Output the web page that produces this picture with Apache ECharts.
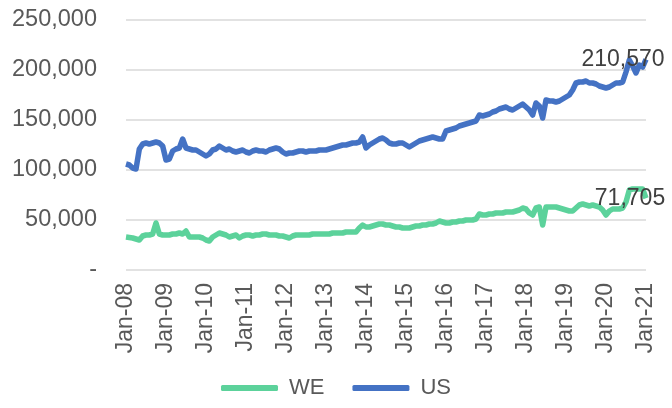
<!DOCTYPE html>
<html>
<head>
<meta charset="utf-8">
<title>WE vs US</title>
<script src="https://cdn.jsdelivr.net/npm/echarts@6/dist/echarts.min.js"></script>
<style>
    html, body {margin: 0; padding: 0; background: #fff;}
    #chart {width: 672px; height: 408px;}
</style>
</head>
<body>
<div id="chart"></div>
<script>
    // monthly values, Jan-08 .. Jan-21 (thousands)
    var weValues = [
        33, 32.5, 32, 31, 30, 34, 35, 35, 36, 47, 36, 35,
        35, 35, 36, 36, 37, 36, 39, 33, 33, 33, 33, 32,
        30, 29, 33, 35, 37, 36, 35, 33, 34, 35, 32, 34,
        35, 35, 34, 35, 35, 36, 36, 35, 35, 35, 34, 34,
        33, 32, 34, 35, 35, 35, 35, 35, 36, 36, 36, 36,
        36, 36, 37, 37, 37, 37, 38, 38, 38, 38, 42, 45,
        43, 43, 44, 45, 46, 46, 45, 45, 44, 43, 43, 42,
        42, 42, 43, 44, 44, 45, 45, 46, 46, 47, 49, 48,
        47, 47, 48, 48, 49, 49, 50, 50, 50, 51, 56, 55,
        55, 56, 56, 57, 57, 57, 58, 58, 58, 59, 60, 62,
        61, 57, 55, 62, 63, 45, 63, 63, 63, 63, 62, 61,
        60, 59, 59, 62, 65, 66, 65, 64, 65, 64, 63, 60,
        55, 59, 61, 61, 61, 62, 68, 80, 81, 81, 81, 81,
        71.705
    ];
    var usValues = [
        106, 105, 102, 101, 121, 126, 127, 126, 127, 128, 127, 124,
        110, 111, 119, 121, 122, 131, 122, 121, 120, 120, 118, 116,
        114, 116, 120, 121, 124, 122, 120, 121, 119, 118, 119, 120,
        118, 117, 119, 120, 119, 119, 118, 120, 121, 122, 121, 118,
        116, 117, 117, 118, 119, 119, 118, 119, 119, 119, 120, 120,
        120, 121, 122, 123, 124, 125, 125, 126, 127, 127, 128, 133,
        122, 125, 127, 129, 131, 132, 130, 127, 126, 126, 127, 127,
        125, 123, 125, 127, 129, 130, 131, 132, 133, 132, 131, 131,
        139, 140, 141, 142, 144, 145, 146, 147, 148, 149, 155, 154,
        155, 156, 158, 159, 161, 162, 163, 161, 160, 162, 164, 166,
        163, 160, 155, 167, 164, 152, 170, 169, 169, 168, 169, 171,
        173, 175, 180, 187, 188, 188, 189, 187, 187, 186, 184, 183,
        182, 183, 185, 187, 187, 188, 198, 210, 204, 197, 205, 203,
        210.57
    ];
    var monthNames = ["Jan","Feb","Mar","Apr","May","Jun","Jul","Aug","Sep","Oct","Nov","Dec"];
    var yTicks = [0, 50000, 100000, 150000, 200000, 250000];

    var WE_COLOR = "#5CD29B",
        US_COLOR = "#4472C4",
        TEXT_COLOR = "#595959",
        FONT = "Liberation Sans";

    /**
     * month labels like Jan-08
     */
    function buildCategories(count) {
        var list = [];
        for (var i = 0; i < count; i++) {
            var yr = 8 + Math.floor(i / 12);
            list.push(monthNames[i % 12] + "-" + (yr < 10 ? "0" + yr : yr));
        }
        return list;
    }

    function toUnits(arr) {
        return arr.map(function (v) { return Math.round(v * 1000); });
    }

    function fmt(v) {
        return v === 0 ? "-" : v.toLocaleString("en-US");
    }

    var categories = buildCategories(usValues.length);
    var we = toUnits(weValues),
        us = toUnits(usValues);
    var last = categories.length - 1;

    /**
     * end-of-line value label
     */
    function endLabel(data, offset) {
        return {
            symbol: "circle",
            symbolSize: 0,
            silent: true,
            data: [{coord: [categories[last], data[last]], value: data[last]}],
            label: {
                show: true,
                position: "inside",
                offset: offset,
                color: "#404040",
                fontFamily: FONT,
                fontSize: 23,
                formatter: function (p) { return fmt(p.value); }
            }
        };
    }

    var option = {
        animation: false,
        backgroundColor: "#fff",
        grid: {left: 126, right: 26, top: 20, bottom: 138},
        legend: {
            data: ["WE", "US"],
            left: "center",
            top: 372,
            icon: "roundRect",
            itemWidth: 57,
            itemHeight: 6,
            itemGap: 28,
            textStyle: {color: TEXT_COLOR, fontFamily: FONT, fontSize: 22, padding: [0, 0, 0, 6]}
        },
        xAxis: {
            type: "category",
            data: categories,
            boundaryGap: false,
            axisLine: {show: false},
            axisTick: {show: false},
            axisLabel: {
                interval: 11,
                rotate: 90,
                margin: 13,
                color: TEXT_COLOR,
                fontFamily: FONT,
                fontSize: 23
            }
        },
        yAxis: {
            type: "value",
            min: yTicks[0],
            max: yTicks[yTicks.length - 1],
            interval: yTicks[1] - yTicks[0],
            axisLine: {show: false},
            axisTick: {show: false},
            splitLine: {lineStyle: {color: "#D9D9D9", width: 1.5}},
            axisLabel: {
                margin: 29,
                color: TEXT_COLOR,
                fontFamily: FONT,
                fontSize: 23.5,
                formatter: fmt
            }
        },
        series: [
            {
                name: "WE",
                type: "line",
                data: we,
                showSymbol: false,
                color: WE_COLOR,
                lineStyle: {width: 5.5, color: WE_COLOR, join: "round"},
                markPoint: endLabel(we, [-16, 0])
            },
            {
                name: "US",
                type: "line",
                data: us,
                showSymbol: false,
                color: US_COLOR,
                lineStyle: {width: 5.5, color: US_COLOR, join: "round"},
                markPoint: endLabel(us, [-23, 0])
            }
        ]
    };

    var chart = echarts.init(document.getElementById("chart"));
    chart.setOption(option);
</script>
</body>
</html>
